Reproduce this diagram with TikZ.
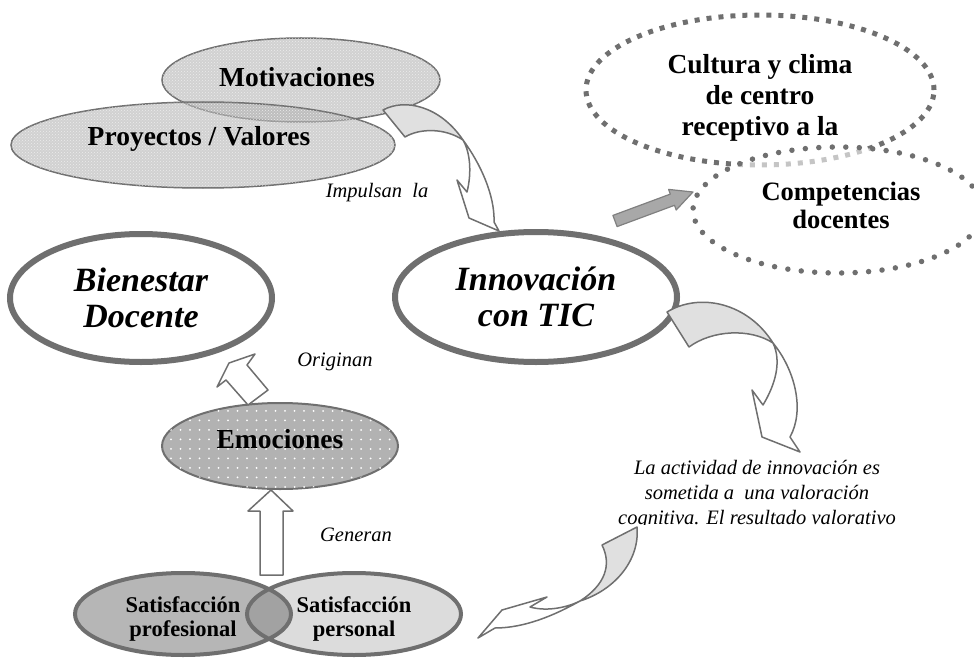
\documentclass[tikz,border=0pt]{standalone}
\usepackage{fontspec}
\setmainfont{Liberation Serif}
\usetikzlibrary{shapes.geometric,patterns,patterns.meta}

\definecolor{rimgray}{HTML}{6F6F6F}
\definecolor{lightfill}{HTML}{E0E0E0}
\definecolor{arrowgray}{HTML}{A8A8A8}
\definecolor{emofill}{HTML}{B2B2B2}
\definecolor{proffill}{HTML}{B6B6B6}
\definecolor{persfill}{HTML}{DCDCDC}
\definecolor{bothfill}{HTML}{A2A2A2}

\begin{document}
\begin{tikzpicture}[x=1pt, y=-1pt,
	bubble/.style={ellipse, inner sep=0pt, align=center},
	boldtxt/.style={font=\fontsize{27.5}{31}\selectfont\bfseries, align=center},
	bigtxt/.style={font=\fontsize{34}{36}\selectfont\bfseries\itshape},
	note/.style={font=\fontsize{20.5}{25}\selectfont\itshape, align=center},
	blockarrow/.style={draw=rimgray, line width=1.5pt, line join=round, fill=white}]
\useasboundingbox (0,0) rectangle (974,658);

% upper left: two overlapping soft ellipses
\node[bubble, minimum width=278pt, minimum height=84pt, draw=rimgray, line width=1.5pt, fill=gray!60, fill opacity=.6, postaction={pattern=crosshatch dots, pattern color=white}] (motiv) at (301,80) {};
\node[bubble, minimum width=384pt, minimum height=86pt, draw=rimgray, line width=1.5pt, fill=gray!60, fill opacity=.6, postaction={pattern=crosshatch dots, pattern color=white}] (proyec) at (203,145) {};
\node[boldtxt] (motivtxt) at (297,77) {Motivaciones};
\node[boldtxt] (proyectxt) at (199,139) {Proyectos / Valores};

% upper right: dashed and dotted ellipses
\node[bubble, minimum width=348pt, minimum height=150pt, draw=rimgray, line width=5pt, dash pattern=on 5pt off 7pt] (cultura) at (760,90) {};
\node[bubble, minimum width=290pt, minimum height=126pt, draw=rimgray, line width=5.5pt, line cap=round, dash pattern=on 0pt off 13.5pt, fill=white, fill opacity=.6] (compet) at (838,210) {};
\node[boldtxt] (culturatxt) at (760,98) {Cultura y clima\\de centro\\receptivo a la};
\node[boldtxt, font=\fontsize{26.5}{28}\selectfont\bfseries] (compettxt) at (841,205) {Competencias\\docentes};

\draw[draw=gray, line width=1.2pt, fill=arrowgray, line join=round] (612.9,215.4) -- (670.3,194.1) -- (668.6,189.4) -- (693,192) -- (676.2,210.0) -- (674.5,205.3) -- (617.1,226.6) -- cycle;

% main ellipses
\node[bubble, bigtxt, minimum width=282pt, minimum height=130pt, draw=rimgray, line width=6pt, fill=white] (innov) at (536,297) {Innovación\\con TIC};
\node[bubble, bigtxt, minimum width=262pt, minimum height=128pt, draw=rimgray, line width=6pt, fill=white] (bienestar) at (141,298) {Bienestar\\Docente};

\node[bubble, minimum width=236pt, minimum height=86pt, draw=rimgray, line width=2pt, fill=emofill, postaction={pattern={Dots[distance=9.5pt, radius=1pt]}, pattern color=white}] (emoc) at (280,446) {};
\node[boldtxt] (emoctxt) at (280,439) {Emociones};

% satisfaccion pair
\node[bubble, minimum width=216pt, minimum height=82pt, fill=proffill] (satprof) at (183,614) {};
\node[bubble, minimum width=214pt, minimum height=82pt, fill=persfill] (satpers) at (354,614) {};
\begin{scope}
	\clip (satprof.center) ellipse [x radius=108, y radius=41];
	\fill[bothfill] (satpers.center) ellipse [x radius=107, y radius=41];
\end{scope}
\draw[rimgray, line width=4pt] (satprof.center) ellipse [x radius=108, y radius=41] (satpers.center) ellipse [x radius=107, y radius=41];
\node[font=\fontsize{22.5}{24}\selectfont\bfseries, align=center] (proftxt) at (183,619) {Satisfacción\\profesional};
\node[font=\fontsize{22.5}{24}\selectfont\bfseries, align=center] (perstxt) at (354,619) {Satisfacción\\personal};

% curved arrows
\draw[blockarrow, fill=lightfill] (383,110) .. controls (405,98) and (440,106) .. (463,140) .. controls (445,128) and (420,128) .. (405,137) -- cycle;
\draw[blockarrow] (463,140) .. controls (480,163) and (495,195) .. (494,222) -- (499,231) -- (469,218) -- (457,180) -- (467,192) .. controls (472,172) and (470,152) .. (463,140) -- cycle;

\draw[blockarrow, fill=lightfill] (667,312) .. controls (700,292) and (748,303) .. (773,343) .. controls (750,328) and (712,330) .. (689,347) -- cycle;
\draw[blockarrow] (773,343) .. controls (795,370) and (805,410) .. (790,437) -- (800,452) -- (762,437) -- (752,390) -- (763,405) .. controls (775,385) and (782,362) .. (773,343) -- cycle;

\draw[blockarrow, fill=lightfill] (602,545) -- (637,527) .. controls (640,560) and (615,590) .. (580,601) .. controls (605,585) and (612,565) .. (602,545) -- cycle;
\draw[blockarrow] (580,601) .. controls (555,615) and (525,628) .. (495,628) -- (478,638) -- (502,610) -- (547,597) -- (530,607) .. controls (548,612) and (568,607) .. (580,601) -- cycle;

% straight block arrows
\draw[blockarrow] (217,387) -- (229,363) -- (255,354) -- (247,365) -- (268,390) -- (248,405) -- (226,380) -- cycle;
\draw[blockarrow] (271,490) -- (293,511) -- (283,511) -- (283,575) -- (260,575) -- (260,511) -- (248,511) -- cycle;

% labels
\node[note] (impulsan) at (377,193) {Impulsan\ \ la};
\node[note] (originan) at (335,362) {Originan};
\node[note] (generan) at (356,535) {Generan};
\begin{scope}
	\clip (560,440) rectangle (974,524);
	\node[note] (valora) at (757,495) {La actividad de innovación es\\sometida a\ \ una valoración\\cognitiva. El resultado valorativo};
\end{scope}
\end{tikzpicture}
\end{document}
